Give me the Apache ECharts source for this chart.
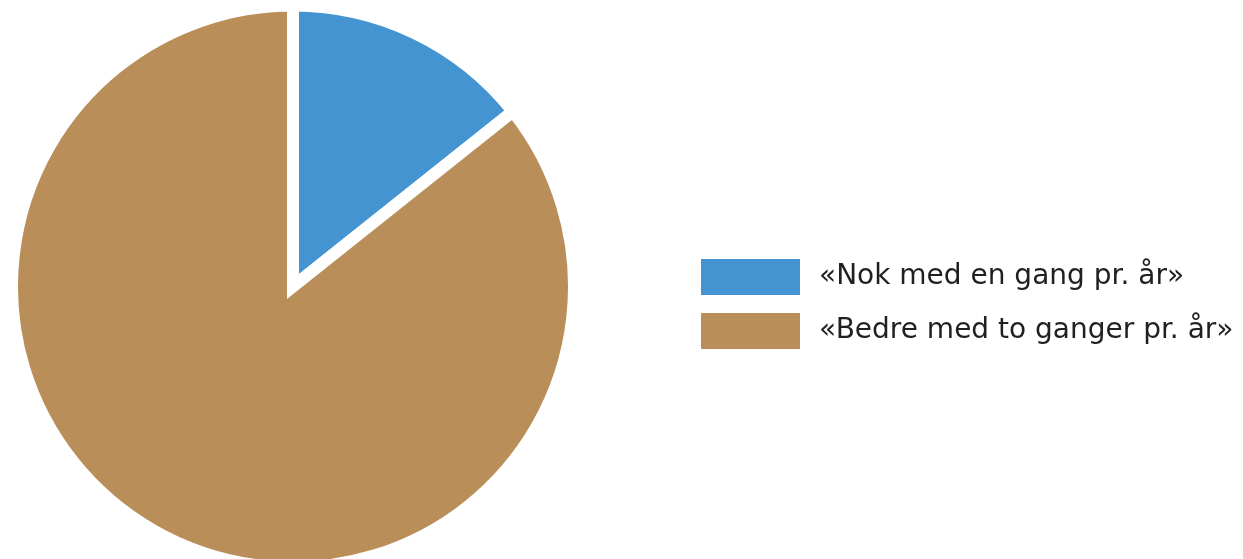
<!DOCTYPE html>
<html>
<head>
<meta charset="utf-8">
<script src="https://cdn.jsdelivr.net/npm/echarts@6/dist/echarts.min.js"></script>
<style>
  html, body { margin: 0; padding: 0; background: #fff; }
  #chart { width: 1243px; height: 559px; }
</style>
</head>
<body>
<div id="chart"></div>
<script>
// data
var categories = ['«Nok med en gang pr. år»', '«Bedre med to ganger pr. år»'];
var values = [14.3, 85.7];
var colors = ['#4394D0', '#B98E59'];

var myChart = echarts.init(document.getElementById('chart'));
var option = {
    animation: false,
    color: colors,
    legend: {
        orient: 'vertical',
        left: 694,
        top: 252,
        itemWidth: 101,
        itemHeight: 38,
        itemGap: 14,
        icon: 'rect',
        selectedMode: false,
        data: categories,
        textStyle: {
            fontFamily: 'DejaVu Sans',
            fontSize: 28,
            lineHeight: 38,
            color: '#231F20',
            padding: [0, 0, 0, 13]
        }
    },
    series: [{
        type: 'pie',
        center: [293, 286.5],
        radius: 281,
        startAngle: 90,
        clockwise: true,
        silent: true,
        label: { show: false },
        labelLine: { show: false },
        itemStyle: {
            borderColor: '#fff',
            borderWidth: 12,
            borderJoin: 'miter'
        },
        data: categories.map(function (name, i) {
            return { name: name, value: values[i] };
        })
    }]
};
myChart.setOption(option);
</script>
</body>
</html>
